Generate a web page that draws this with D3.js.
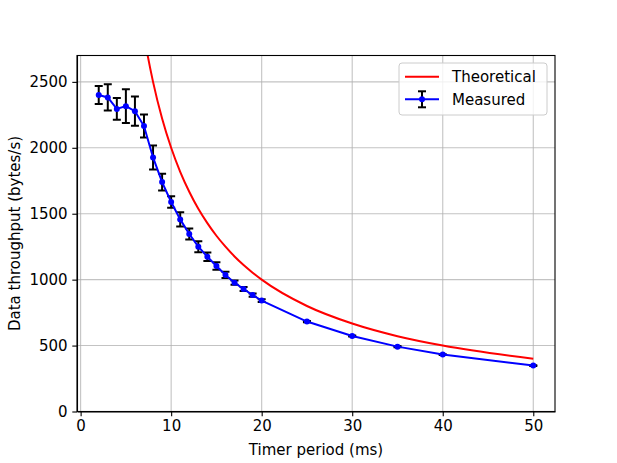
<!DOCTYPE html>
<html>
<head>
<meta charset="utf-8">
<script src="https://cdn.jsdelivr.net/npm/d3@7"></script>
<style>
  body { margin: 0; background: #fff; }
  svg { font-family: "DejaVu Sans", sans-serif; }
  .grid line { stroke: #b0b0b0; stroke-width: 1.1; opacity: 0.75; }
  .axis path, .axis line { stroke: #000; stroke-width: 1.1; }
  .axis text { font-size: 15px; fill: #000; font-family: "DejaVu Sans", sans-serif; }
</style>
</head>
<body>
<script>

// Timer periods (ms).
var periods = [2, 3, 4, 5, 6, 7, 8, 9, 10, 11, 12, 13, 14, 15, 16, 17, 18, 19, 20, 25, 30, 35, 40, 50];

// Theoretical throughput (bytes/s).
var theoretical = [10000, 6667, 5000, 4000, 3333, 2857, 2500, 2222, 2000, 1818, 1667, 1538,
  1429, 1333, 1250, 1176, 1111, 1053, 1000, 800, 667, 571, 500, 400];

// Measured throughput (bytes/s) and its error.
var measured = [2400, 2382, 2295, 2316, 2278, 2165, 1927, 1740, 1589, 1457, 1346, 1250,
  1174, 1104, 1036, 977, 929, 883, 841, 682, 573, 492, 432, 348];
var measuredErr = [68, 100, 82, 128, 111, 87, 91, 63, 44, 54, 42, 42,
  32, 28, 24, 16, 15, 12, 10, 5, 4, 4, 3, 3];

// Ticks.
var xTicks = [0, 10, 20, 30, 40, 50];
var yTicks = [0, 500, 1000, 1500, 2000, 2500];

var width = 617;
var height = 463;
var margin = { left: 77, right: 62, top: 55.5, bottom: 51.5 };
var plotW = width - margin.left - margin.right;
var plotH = height - margin.top - margin.bottom;

var svg = d3.select('body').append('svg')
  .attr('width', width)
  .attr('height', height);

var x = d3.scaleLinear().domain([-0.4, 52.4]).range([0, plotW]);
var y = d3.scaleLinear().domain([0, 2700]).range([plotH, 0]);

var g = svg.append('g')
  .attr('transform', 'translate(' + margin.left + ',' + margin.top + ')');

// Clip to the axes box.
svg.append('defs').append('clipPath').attr('id', 'clip')
  .append('rect').attr('width', plotW).attr('height', plotH);

// Grid.
var grid = g.append('g').attr('class', 'grid');
grid.selectAll('.vx').data(xTicks).enter().append('line')
  .attr('x1', function(d) { return x(d); })
  .attr('x2', function(d) { return x(d); })
  .attr('y1', 0).attr('y2', plotH);
grid.selectAll('.hy').data(yTicks).enter().append('line')
  .attr('x1', 0).attr('x2', plotW)
  .attr('y1', function(d) { return y(d); })
  .attr('y2', function(d) { return y(d); });

var plot = g.append('g').attr('clip-path', 'url(#clip)');

// Theoretical curve.
var theoLine = d3.line()
  .x(function(d, i) { return x(periods[i]); })
  .y(function(d) { return y(d); })
  .curve(d3.curveMonotoneX);

plot.append('path')
  .datum(theoretical)
  .attr('d', theoLine)
  .attr('fill', 'none')
  .attr('stroke', '#ff0000')
  .attr('stroke-width', 2);

// Error bars.
var bars = plot.append('g');
bars.selectAll('.bar').data(measured).enter().append('line')
  .attr('x1', function(d, i) { return x(periods[i]); })
  .attr('x2', function(d, i) { return x(periods[i]); })
  .attr('y1', function(d, i) { return y(d - measuredErr[i]); })
  .attr('y2', function(d, i) { return y(d + measuredErr[i]); })
  .attr('stroke', '#000').attr('stroke-width', 2);
[-1, 1].forEach(function(sign) {
  bars.selectAll('.cap' + sign).data(measured).enter().append('line')
    .attr('x1', function(d, i) { return x(periods[i]) - 4; })
    .attr('x2', function(d, i) { return x(periods[i]) + 4; })
    .attr('y1', function(d, i) { return y(d + sign * measuredErr[i]); })
    .attr('y2', function(d, i) { return y(d + sign * measuredErr[i]); })
    .attr('stroke', '#000').attr('stroke-width', 2);
});

// Measured line and markers.
var measLine = d3.line()
  .x(function(d, i) { return x(periods[i]); })
  .y(function(d) { return y(d); });

plot.append('path')
  .datum(measured)
  .attr('d', measLine)
  .attr('fill', 'none')
  .attr('stroke', '#0000ff')
  .attr('stroke-width', 2);

plot.selectAll('.dot').data(measured).enter().append('circle')
  .attr('cx', function(d, i) { return x(periods[i]); })
  .attr('cy', function(d) { return y(d); })
  .attr('r', 3)
  .attr('fill', '#0000ff');

// Axes.
var xAxis = d3.axisBottom(x).tickValues(xTicks).tickFormat(d3.format('d'))
  .tickSize(4.7).tickPadding(4.2).tickSizeOuter(0);
var yAxis = d3.axisLeft(y).tickValues(yTicks).tickFormat(d3.format('d'))
  .tickSize(4.7).tickPadding(4.7).tickSizeOuter(0);

g.append('g').attr('class', 'axis')
  .attr('transform', 'translate(0,' + plotH + ')')
  .call(xAxis);
g.append('g').attr('class', 'axis').call(yAxis);

// Spines.
g.append('rect')
  .attr('width', plotW).attr('height', plotH)
  .attr('fill', 'none').attr('stroke', '#000').attr('stroke-width', 1.1);

// Axis labels.
svg.append('text')
  .attr('x', margin.left + plotW / 2)
  .attr('y', 455)
  .attr('text-anchor', 'middle')
  .attr('font-size', 15)
  .text('Timer period (ms)');

svg.append('text')
  .attr('transform', 'translate(19.5,' + (margin.top + plotH / 2) + ') rotate(-90)')
  .attr('text-anchor', 'middle')
  .attr('font-size', 15)
  .text('Data throughput (bytes/s)');

// Legend.
var legend = svg.append('g').attr('transform', 'translate(399,63)');
legend.append('rect')
  .attr('width', 148).attr('height', 52)
  .attr('rx', 3)
  .attr('fill', '#fff').attr('fill-opacity', 0.8)
  .attr('stroke', '#ccc');

var rowY = [13.7, 36.3];
legend.append('line')
  .attr('x1', 6).attr('x2', 40)
  .attr('y1', rowY[0]).attr('y2', rowY[0])
  .attr('stroke', '#ff0000').attr('stroke-width', 2);
legend.append('line')
  .attr('x1', 6).attr('x2', 40)
  .attr('y1', rowY[1]).attr('y2', rowY[1])
  .attr('stroke', '#0000ff').attr('stroke-width', 2);
legend.append('line')
  .attr('x1', 23).attr('x2', 23)
  .attr('y1', rowY[1] - 8).attr('y2', rowY[1] + 8)
  .attr('stroke', '#000').attr('stroke-width', 2);
legend.append('line')
  .attr('x1', 19).attr('x2', 27)
  .attr('y1', rowY[1] - 8).attr('y2', rowY[1] - 8)
  .attr('stroke', '#000').attr('stroke-width', 2);
legend.append('line')
  .attr('x1', 19).attr('x2', 27)
  .attr('y1', rowY[1] + 8).attr('y2', rowY[1] + 8)
  .attr('stroke', '#000').attr('stroke-width', 2);
legend.append('circle')
  .attr('cx', 23).attr('cy', rowY[1]).attr('r', 3).attr('fill', '#0000ff');

legend.selectAll('.label').data(['Theoretical', 'Measured']).enter().append('text')
  .attr('x', 53)
  .attr('y', function(d, i) { return rowY[i]; })
  .attr('dy', '0.35em')
  .attr('font-size', 15)
  .text(function(d) { return d; });

</script>
</body>
</html>
